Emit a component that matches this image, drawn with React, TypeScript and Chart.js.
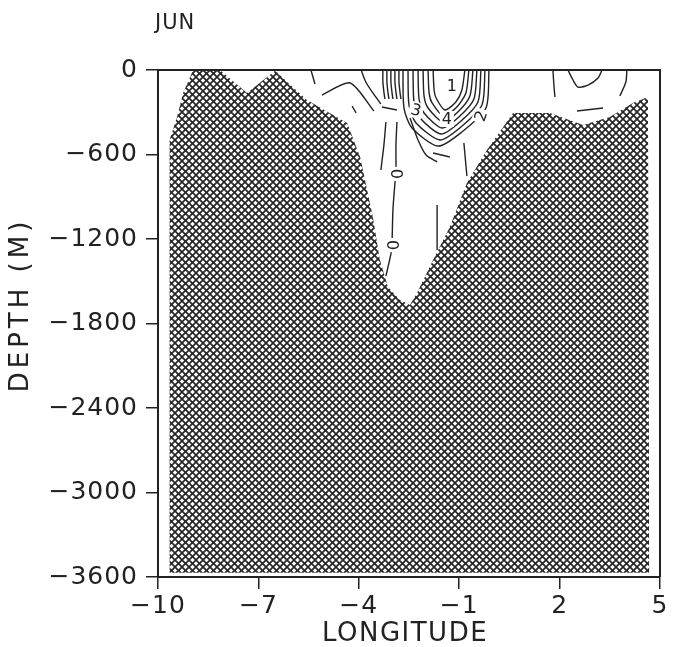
import React, { useEffect, useRef } from 'react';
import { Chart, registerables } from 'chart.js';

Chart.register(...registerables);

// ---- axes ----
const xTicks = [-10, -7, -4, -1, 2, 5];
const yTicks = [-3600, -3000, -2400, -1800, -1200, -600, 0];

// ---- bathymetry outline (longitude, depth m) ----
const bathyLon = [-9.66, -9.66, -9.43, -9.25, -8.95, -8.15, -7.34, -6.5, -5.55, -4.35, -3.96, -3.58, -3.37, -3.13, -2.77, -2.47, -2.26, -1.78, -1.28, -0.77, -0.17, 0.61, 1.71, 2.7, 3.5, 4.19, 4.64, 4.68];
const bathyDepth = [-3570, -500, -334, -163, 0, 0, -163, -5, -213, -376, -618, -1044, -1349, -1541, -1633, -1669, -1583, -1349, -1115, -802, -568, -305, -305, -390, -334, -234, -192, -3570];
const bathyFloor = -3570;

// ---- contour lines [longitude, depth] ----
type Pt = [number, number];
const c01: Pt[] = [[-5.43, 0], [-5.31, -99]];
const c02: Pt[] = [[-5.1, -178], [-4.26, -92], [-3.55, -291]];
const c03: Pt[] = [[-4.2, -256], [-4.08, -305]];
const c04: Pt[] = [[-3.93, 0], [-3.79, -85], [-3.58, -163], [-3.34, -241]];
const c05: Pt[] = [[-3.28, 0], [-3.28, -85], [-3.25, -156], [-3.22, -206]];
const c06: Pt[] = [[-3.16, 0], [-3.16, -85], [-3.13, -156], [-3.1, -206]];
const c07: Pt[] = [[-3.04, 0], [-3.04, -85], [-3.01, -156], [-2.98, -206]];
const c08: Pt[] = [[-2.92, 0], [-2.92, -85], [-2.89, -156], [-2.86, -206]];
const c09: Pt[] = [[-2.8, 0], [-2.8, -85], [-2.77, -156], [-2.74, -206]];
const c10: Pt[] = [[-3.31, -263], [-2.86, -284]];
const c11: Pt[] = [[-3.19, -369], [-3.25, -533], [-3.34, -710]];
const c12: Pt[] = [[-2.86, -369], [-2.89, -533], [-2.89, -738], [-2.92, -802], [-2.98, -994], [-3.01, -1243], [-3.04, -1306], [-3.19, -1463]];
const c13: Pt[] = [[-1.66, -959], [-1.66, -1278]];
const c14: Pt[] = [[-0.86, -518], [-0.77, -753]];
const v0: Pt[] = [[-2.68, 0], [-2.65, -270], [-2.41, -412], [-1.63, -540], [-0.92, -440], [-0.2, -270], [-0.11, 0]];
const v1: Pt[] = [[-2.53, 0], [-2.5, -249], [-2.29, -376], [-1.57, -497], [-0.95, -405], [-0.32, -249], [-0.23, 0]];
const v2: Pt[] = [[-2.38, 0], [-2.35, -227], [-2.17, -341], [-1.54, -454], [-0.98, -369], [-0.44, -227], [-0.35, 0]];
const v3: Pt[] = [[-2.23, 0], [-2.2, -206], [-2.05, -305], [-1.51, -412], [-1.01, -334], [-0.56, -206], [-0.47, 0]];
const v4: Pt[] = [[-2.08, 0], [-2.05, -185], [-1.93, -270], [-1.48, -369], [-1.04, -298], [-0.68, -185], [-0.59, 0]];
const v5: Pt[] = [[-1.93, 0], [-1.9, -163], [-1.81, -234], [-1.46, -327], [-1.07, -263], [-0.8, -163], [-0.71, 0]];
const v6: Pt[] = [[-1.78, 0], [-1.75, -142], [-1.69, -199], [-1.43, -284], [-1.1, -227], [-0.92, -142], [-0.83, 0]];
const c22: Pt[] = [[-2.47, -341], [-2.23, -497], [-1.99, -604], [-1.66, -653]];
const c23: Pt[] = [[-1.78, -589], [-1.28, -618]];
const c24: Pt[] = [[1.8, 0], [1.83, -107], [1.86, -192]];
const c25: Pt[] = [[2.25, 0], [2.4, -71], [2.55, -121], [2.85, -107], [3.15, -57], [3.27, 0]];
const c26: Pt[] = [[2.52, -291], [3.3, -270]];
const c27: Pt[] = [[4.01, 0], [3.98, -85], [3.8, -185]];

const contourLines: Pt[][] = [c01, c02, c03, c04, c05, c06, c07, c08, c09, c10, c11, c12, c13, c14, v0, v1, v2, v3, v4, v5, v6, c22, c23, c24, c25, c26, c27];

// ---- contour labels ----
const labelText = ['0', '0', '3', '4', '2', '1'];
const labelLon = [-2.89, -3.01, -2.29, -1.37, -0.35, -1.22];
const labelDepth = [-738, -1243, -284, -348, -327, -114];
const labelAngle = [90, 90, 15, 0, -70, 0];

const INK = '#222';
const FONT = '"DejaVu Sans", sans-serif';

function makeHatch(): CanvasPattern | string {
  const s = 7;
  const c = document.createElement('canvas');
  c.width = s;
  c.height = s;
  const g = c.getContext('2d');
  if (!g) return '#555';
  g.fillStyle = '#fff';
  g.fillRect(0, 0, s, s);
  g.strokeStyle = '#262626';
  g.lineWidth = 1.7;
  for (const k of [-s, 0, s]) {
    g.beginPath();
    g.moveTo(k - 2, -2);
    g.lineTo(k + s + 2, s + 2);
    g.stroke();
    g.beginPath();
    g.moveTo(k + s + 2, -2);
    g.lineTo(k - 2, s + 2);
    g.stroke();
  }
  const p = g.createPattern(c, 'repeat');
  return p || '#555';
}

const decor = {
  id: 'decor',
  beforeDraw(chart: any) {
    const ctx = chart.ctx;
    ctx.save();
    ctx.fillStyle = '#fff';
    ctx.fillRect(0, 0, chart.width, chart.height);
    ctx.restore();
    ctx.letterSpacing = '1px';
  },
  afterDatasetsDraw(chart: any) {
    const { ctx, scales } = chart;
    const xs = scales.x;
    const ys = scales.y;
    labelText.forEach((t, i) => {
      const px = xs.getPixelForValue(labelLon[i]);
      const py = ys.getPixelForValue(labelDepth[i]);
      ctx.save();
      ctx.letterSpacing = '0px';
      ctx.translate(px, py);
      ctx.rotate((labelAngle[i] * Math.PI) / 180);
      ctx.font = `16px ${FONT}`;
      const w = ctx.measureText(t).width;
      ctx.fillStyle = '#fff';
      ctx.fillRect(-w / 2 - 2, -8, w + 4, 16);
      ctx.fillStyle = INK;
      ctx.textAlign = 'center';
      ctx.textBaseline = 'middle';
      ctx.fillText(t, 0, 1);
      ctx.restore();
    });
  },
  afterDraw(chart: any) {
    const { ctx, chartArea } = chart;
    const { left, right, top, bottom } = chartArea;
    ctx.save();
    ctx.strokeStyle = INK;
    ctx.lineWidth = 2;
    ctx.beginPath();
    ctx.moveTo(left, top);
    ctx.lineTo(right, top);
    ctx.lineTo(right, bottom);
    ctx.stroke();

    ctx.fillStyle = INK;
    ctx.letterSpacing = '1px';
    ctx.font = `21px ${FONT}`;
    ctx.textAlign = 'left';
    ctx.textBaseline = 'middle';
    ctx.fillText('JUN', 155, 24);

    ctx.font = `26px ${FONT}`;
    ctx.textAlign = 'center';
    ctx.letterSpacing = '1.5px';
    ctx.fillText('LONGITUDE', (left + right) / 2 - 4, 634);

    ctx.translate(21, 305);
    ctx.rotate(-Math.PI / 2);
    ctx.letterSpacing = '4px';
    ctx.fillText('DEPTH (M)', 0, 0);
    ctx.restore();
  },
};

export default function App() {
  const ref = useRef<HTMLCanvasElement | null>(null);

  useEffect(() => {
    const canvas = ref.current;
    if (!canvas) return;
    const hatch = makeHatch();

    const datasets: any[] = [
      {
        data: bathyLon.map((x, i) => ({ x, y: bathyDepth[i] })),
        borderWidth: 0,
        borderColor: 'rgba(0,0,0,0)',
        backgroundColor: hatch,
        pointRadius: 0,
        tension: 0,
        fill: { value: bathyFloor },
        order: 2,
      },
      ...contourLines.map((line) => ({
        data: line.map(([x, y]) => ({ x, y })),
        borderColor: INK,
        borderWidth: 1.4,
        pointRadius: 0,
        tension: 0.25,
        fill: false,
        order: 1,
      })),
    ];

    const chart = new Chart(canvas, {
      type: 'line',
      data: { datasets },
      options: {
        animation: false,
        responsive: false,
        devicePixelRatio: 1,
        events: [],
        layout: { padding: { top: 70, right: 13, left: 0, bottom: 0 } },
        plugins: { legend: { display: false }, tooltip: { enabled: false }, title: { display: false } },
        scales: {
          x: {
            type: 'linear',
            min: -10,
            max: 5,
            afterBuildTicks: (s: any) => {
              s.ticks = xTicks.map((v) => ({ value: v }));
            },
            afterFit: (s: any) => {
              s.height = 70;
            },
            ticks: {
              autoSkip: false,
              maxRotation: 0,
              padding: 2,
              color: INK,
              font: { family: FONT, size: 25 },
              callback: (v: any) => (v < 0 ? '\u2212' + Math.abs(v) : String(v)),
            },
            grid: { drawOnChartArea: false, drawTicks: true, tickLength: 12, color: INK, lineWidth: 1.5 },
            border: { display: true, color: INK, width: 2 },
          },
          y: {
            type: 'linear',
            min: -3600,
            max: 0,
            afterBuildTicks: (s: any) => {
              s.ticks = yTicks.map((v) => ({ value: v }));
            },
            afterFit: (s: any) => {
              s.width = 158;
            },
            ticks: {
              autoSkip: false,
              padding: 8,
              color: INK,
              font: { family: FONT, size: 25 },
              callback: (v: any) => (v < 0 ? '\u2212' + Math.abs(v) : String(v)),
            },
            grid: { drawOnChartArea: false, drawTicks: true, tickLength: 12, color: INK, lineWidth: 1.5 },
            border: { display: true, color: INK, width: 2 },
          },
        },
      } as any,
      plugins: [decor],
    });
    return () => chart.destroy();
  }, []);

  return (
    <div style={{ position: 'fixed', left: 0, top: 0, width: 673, height: 647, background: '#fff' }}>
      <canvas ref={ref} width={673} height={647} style={{ display: 'block' }} />
    </div>
  );
}
